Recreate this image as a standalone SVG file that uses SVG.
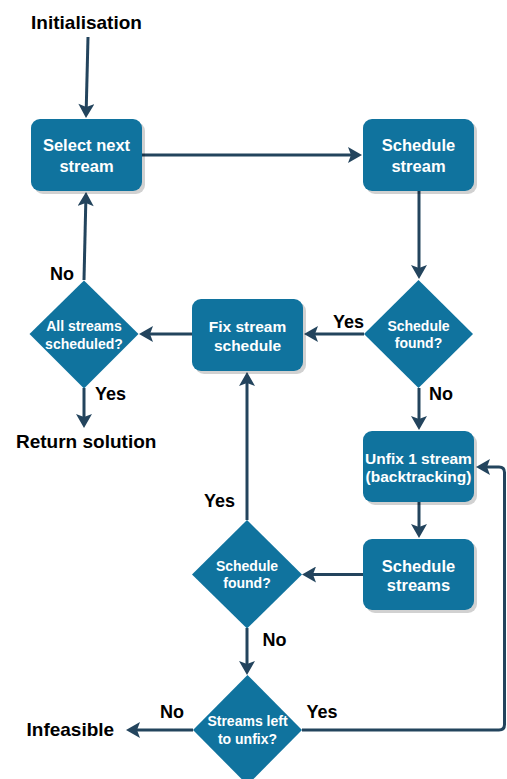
<svg xmlns="http://www.w3.org/2000/svg" width="507" height="779" viewBox="0 0 507 779">
<style>
.box{fill:#10739E;}
.shadow{fill:#000;opacity:0.18;}
.dia{fill:#10739E;}
.bt{font-family:"Liberation Sans",Arial,sans-serif;font-weight:bold;font-size:16px;fill:#fff;text-anchor:middle;}
.dt{font-family:"Liberation Sans",Arial,sans-serif;font-weight:bold;font-size:14px;fill:#fff;text-anchor:middle;}
.lbl{font-family:"Liberation Sans",Arial,sans-serif;font-weight:bold;font-size:18px;fill:#000;}
.term{font-family:"Liberation Sans",Arial,sans-serif;font-weight:bold;font-size:19px;fill:#000;}
.con{fill:none;stroke:#23445D;stroke-width:3;marker-end:url(#arr);}
</style>
<defs>
<marker id="arr" markerUnits="userSpaceOnUse" markerWidth="16" markerHeight="16" viewBox="0 0 15 16" refX="4" refY="8" orient="auto">
<path d="M0,0 L14,8 L0,16 L3,8 Z" fill="#23445D"/>
</marker>
</defs>
<rect width="507" height="779" fill="#fff"/>
<g id="connectors">
<path class="con" d="M88,37 L86.25,108"/>
<path class="con" d="M142,155 H352"/>
<path class="con" d="M419,191 V269"/>
<path class="con" d="M364,334 H314"/>
<path class="con" d="M419,388 V420"/>
<path class="con" d="M192,334 H149"/>
<path class="con" d="M84,280 L85.8,202"/>
<path class="con" d="M84,388 V418"/>
<path class="con" d="M419,502 V528"/>
<path class="con" d="M363,574.5 H312"/>
<path class="con" d="M247,520 V382"/>
<path class="con" d="M247,628 V665"/>
<path class="con" d="M193,730 H136"/>
<path class="con" d="M302,730 H499 Q504.5,730 504.5,724.5 V472.5 Q504.5,467 499,467 H486"/>
</g>
<g id="labels">
<text class="lbl" x="333" y="328">Yes</text>
<text class="lbl" x="429" y="399.5">No</text>
<text class="lbl" x="50" y="280">No</text>
<text class="lbl" x="95" y="400">Yes</text>
<text class="lbl" x="204" y="507">Yes</text>
<text class="lbl" x="262.5" y="645.5">No</text>
<text class="lbl" x="160" y="717.5">No</text>
<text class="lbl" x="306.5" y="717.5">Yes</text>
</g>
<g id="initialisation"><text class="term" x="86.5" y="29" text-anchor="middle">Initialisation</text></g>
<g id="return-solution"><text class="term" x="16" y="448">Return solution</text></g>
<g id="infeasible"><text class="term" x="26.5" y="736">Infeasible</text></g>
<g id="select-next-stream">
<rect class="shadow" x="34" y="122" width="111" height="72" rx="9"/>
<rect class="box" x="31" y="119" width="111" height="72" rx="9"/>
<text class="bt" x="86.5" y="151" style="font-size:16.5px">Select next</text>
<text class="bt" x="86.5" y="171.5" style="font-size:16.5px">stream</text>
</g>
<g id="schedule-stream">
<rect class="shadow" x="366" y="122" width="111" height="72" rx="9"/>
<rect class="box" x="363" y="119" width="111" height="72" rx="9"/>
<text class="bt" x="418.5" y="151" style="font-size:16.5px">Schedule</text>
<text class="bt" x="418.5" y="171.5" style="font-size:16.5px">stream</text>
</g>
<g id="schedule-found-1">
<polygon class="dia" points="418.5,280 473,334 418.5,388 364,334"/>
<text class="dt" x="418.5" y="330.5">Schedule</text>
<text class="dt" x="418.5" y="347.5">found?</text>
</g>
<g id="fix-stream-schedule">
<rect class="shadow" x="195" y="302" width="111" height="72" rx="9"/>
<rect class="box" x="192" y="299" width="111" height="72" rx="9"/>
<text class="bt" x="247.5" y="331.5" style="font-size:15.5px">Fix stream</text>
<text class="bt" x="247.5" y="351" style="font-size:15.5px">schedule</text>
</g>
<g id="all-streams-scheduled">
<polygon class="dia" points="84,280.5 138.5,334 84,388.5 29.5,334"/>
<text class="dt" x="84" y="331">All streams</text>
<text class="dt" x="84" y="348.5">scheduled?</text>
</g>
<g id="unfix-1-stream">
<rect class="shadow" x="366" y="434" width="111" height="71" rx="9"/>
<rect class="box" x="363" y="431" width="111" height="71" rx="9"/>
<text class="bt" x="418.5" y="463.5" style="font-size:15.5px">Unfix 1 stream</text>
<text class="bt" x="418.5" y="481.5" style="font-size:15.5px">(backtracking)</text>
</g>
<g id="schedule-streams">
<rect class="shadow" x="366" y="542" width="111" height="71" rx="9"/>
<rect class="box" x="363" y="539" width="111" height="71" rx="9"/>
<text class="bt" x="418.5" y="571.5" style="font-size:16.5px">Schedule</text>
<text class="bt" x="418.5" y="591" style="font-size:16.5px">streams</text>
</g>
<g id="schedule-found-2">
<polygon class="dia" points="247,520 302,574.5 247,628.5 192,574.5"/>
<text class="dt" x="247" y="570.5">Schedule</text>
<text class="dt" x="247" y="587.5">found?</text>
</g>
<g id="streams-left-to-unfix">
<polygon class="dia" points="247.5,675 302,730 247.5,785 193,730"/>
<text class="dt" x="247.5" y="726">Streams left</text>
<text class="dt" x="247.5" y="743.5">to unfix?</text>
</g>
</svg>
